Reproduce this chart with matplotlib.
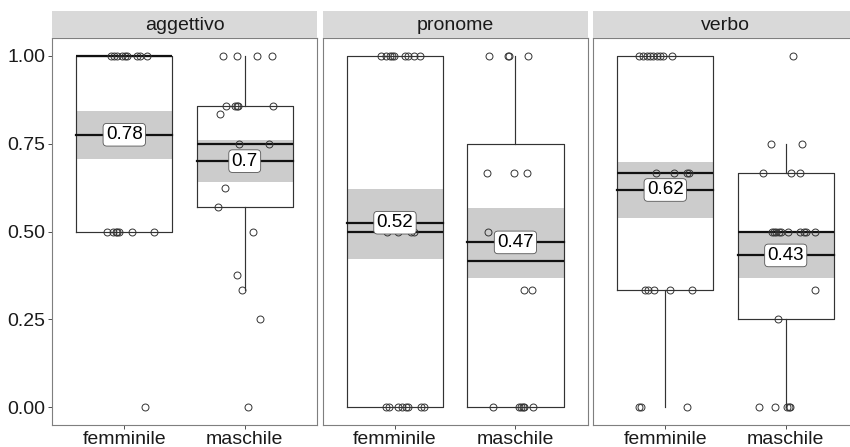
import matplotlib
matplotlib.use("Agg")
import matplotlib.pyplot as plt

plt.rcParams['font.family'] = ['Liberation Sans', 'DejaVu Sans']

facets = ["aggettivo", "pronome", "verbo"]
genders = ["femminile", "maschile"]

# box statistics, one pair [femminile, maschile] per facet
q1 = [[0.5, 0.571], [0.0, 0.0], [0.333, 0.25]]
med = [[1.0, 0.75], [0.5, 0.417], [0.667, 0.5]]
q3 = [[1.0, 0.857], [1.0, 0.75], [1.0, 0.667]]
whislo = [[0.5, 0.333], [0.0, 0.0], [0.0, 0.0]]
whishi = [[1.0, 1.0], [1.0, 1.0], [1.0, 0.75]]

# mean with confidence band
means = [[0.775, 0.70], [0.525, 0.469], [0.618, 0.432]]
ci_lo = [[0.707, 0.64], [0.423, 0.369], [0.537, 0.369]]
ci_hi = [[0.843, 0.759], [0.622, 0.567], [0.698, 0.497]]
mean_labels = [["0.78", "0.7"], ["0.52", "0.47"], ["0.62", "0.43"]]

# individual observations (value, horizontal jitter)
agg_f_y = [1, 1, 1, 1, 1, 1, 1, 1, 1, 0.5, 0.5, 0.5, 0.5, 0.5, 0.5, 0.5, 0]
agg_f_dx = [-0.113, -0.085, -0.058, -0.022, 0.006, 0.025, 0.103, 0.13, 0.186,
            -0.146, -0.091, -0.069, -0.058, -0.046, 0.061, 0.249, 0.172]
agg_m_y = [1, 1, 1, 1, 0.857, 0.857, 0.857, 0.857, 0.857, 0.833, 0.75, 0.75,
           0.625, 0.571, 0.5, 0.375, 0.333, 0.25, 0]
agg_m_dx = [-0.183, -0.065, 0.099, 0.223, -0.159, -0.081, -0.065, -0.054, 0.232,
            -0.208, -0.048, 0.198, -0.164, -0.222, 0.066, -0.065, -0.023, 0.129, 0.027]
pro_f_y = [1, 1, 1, 1, 1, 1, 1, 1, 1, 0.5, 0.5, 0.5, 0.5,
           0, 0, 0, 0, 0, 0, 0, 0]
pro_f_dx = [-0.116, -0.077, -0.041, -0.022, -0.006, 0.083, 0.11, 0.16, 0.207,
            -0.069, 0.027, 0.13, 0.16,
            -0.077, -0.05, 0.027, 0.061, 0.089, 0.11, 0.216, 0.243]
pro_m_y = [1, 1, 1, 1, 0.667, 0.667, 0.667, 0.5, 0.333, 0.333,
           0, 0, 0, 0, 0, 0]
pro_m_dx = [-0.218, -0.063, -0.05, 0.108, -0.237, -0.011, 0.1, -0.229, 0.075, 0.136,
            -0.188, 0.031, 0.047, 0.066, 0.075, 0.144]
ver_f_y = [1, 1, 1, 1, 1, 1, 1, 1, 1, 0.667, 0.667, 0.667, 0.667,
           0.333, 0.333, 0.333, 0.333, 0.333, 0, 0, 0]
ver_f_dx = [-0.216, -0.188, -0.154, -0.127, -0.105, -0.071, -0.044, -0.017, 0.053,
            -0.075, 0.075, 0.178, 0.199,
            -0.168, -0.141, -0.094, 0.039, 0.222, -0.216, -0.202, 0.178]
ver_m_y = [1, 0.75, 0.75, 0.667, 0.667, 0.667,
           0.5, 0.5, 0.5, 0.5, 0.5, 0.5, 0.5, 0.5, 0.5, 0.5,
           0.333, 0.25, 0, 0, 0, 0, 0]
ver_m_dx = [0.061, -0.119, 0.138, -0.188, 0.041, 0.122,
            -0.114, -0.097, -0.077, -0.056, -0.036, 0.019, 0.116, 0.149, 0.166, 0.246,
            0.241, -0.066, -0.224, -0.091, 0.011, 0.027, 0.039]

points_y = [[agg_f_y, agg_m_y], [pro_f_y, pro_m_y], [ver_f_y, ver_m_y]]
points_dx = [[agg_f_dx, agg_m_dx], [pro_f_dx, pro_m_dx], [ver_f_dx, ver_m_dx]]

W, H = 850, 447
fig = plt.figure(figsize=(W / 100, H / 100), dpi=100)

panel_left = [52, 322.7, 593]
panel_w = 265
panel_bottom, panel_top, strip_top = 425, 38, 11
box_w = 0.8

for i, facet in enumerate(facets):
    x0 = panel_left[i] / W
    ax = fig.add_axes([x0, 1 - panel_bottom / H, panel_w / W, (panel_bottom - panel_top) / H])
    sax = fig.add_axes([x0, 1 - panel_top / H, panel_w / W, (panel_top - strip_top) / H])

    # strip
    sax.set_facecolor('#d9d9d9')
    sax.set_xticks([])
    sax.set_yticks([])
    for s in sax.spines.values():
        s.set_visible(False)
    sax.text(0.5, 0.45, facet, ha='center', va='center', fontsize=14,
             color='#1a1a1a', transform=sax.transAxes)

    stats = []
    for j in range(2):
        stats.append(dict(q1=q1[i][j], med=med[i][j], q3=q3[i][j],
                          whislo=whislo[i][j], whishi=whishi[i][j], fliers=[]))
    ax.bxp(stats, positions=[1, 2], widths=box_w, showcaps=False, showfliers=False,
           boxprops=dict(color='#333333', lw=0.85, zorder=3),
           whiskerprops=dict(color='#333333', lw=0.85, zorder=3),
           medianprops=dict(color='#111111', lw=1.6, zorder=4))

    for j in range(2):
        c = j + 1
        xs = [c - box_w / 2, c + box_w / 2]
        ax.fill_between(xs, ci_lo[i][j], ci_hi[i][j], color='#cccccc', lw=0, zorder=2)
        ax.plot(xs, [means[i][j], means[i][j]], color='#111111', lw=1.6, zorder=4)
        px = [c + d for d in points_dx[i][j]]
        ax.plot(px, points_y[i][j], 'o', ms=5, mfc='none', mec='#333333',
                mew=0.7, zorder=5)
        ax.text(c, means[i][j], mean_labels[i][j], ha='center', va='center',
                fontsize=13.5, color='black', zorder=6,
                bbox=dict(boxstyle='round,pad=0.15,rounding_size=0.2',
                          fc='white', ec='#555555', lw=0.6))

    ax.set_xlim(0.4, 2.6)
    ax.set_ylim(-0.05, 1.05)
    ax.set_xticks([1, 2])
    ax.set_xticklabels(genders, fontsize=14, color='#1a1a1a')
    ax.set_yticks([0, 0.25, 0.5, 0.75, 1.0])
    if i == 0:
        ax.set_yticklabels(["0.00", "0.25", "0.50", "0.75", "1.00"],
                           fontsize=14, color='#1a1a1a')
        ax.tick_params(axis='y', length=3, width=0.6, color='#333333', pad=2)
    else:
        ax.tick_params(axis='y', length=0, labelleft=False)
    ax.tick_params(axis='x', length=3, width=0.6, color='#333333', pad=1)
    for s in ax.spines.values():
        s.set_color('#7f7f7f')
        s.set_linewidth(0.8)

fig.savefig("out.png", dpi=100)
